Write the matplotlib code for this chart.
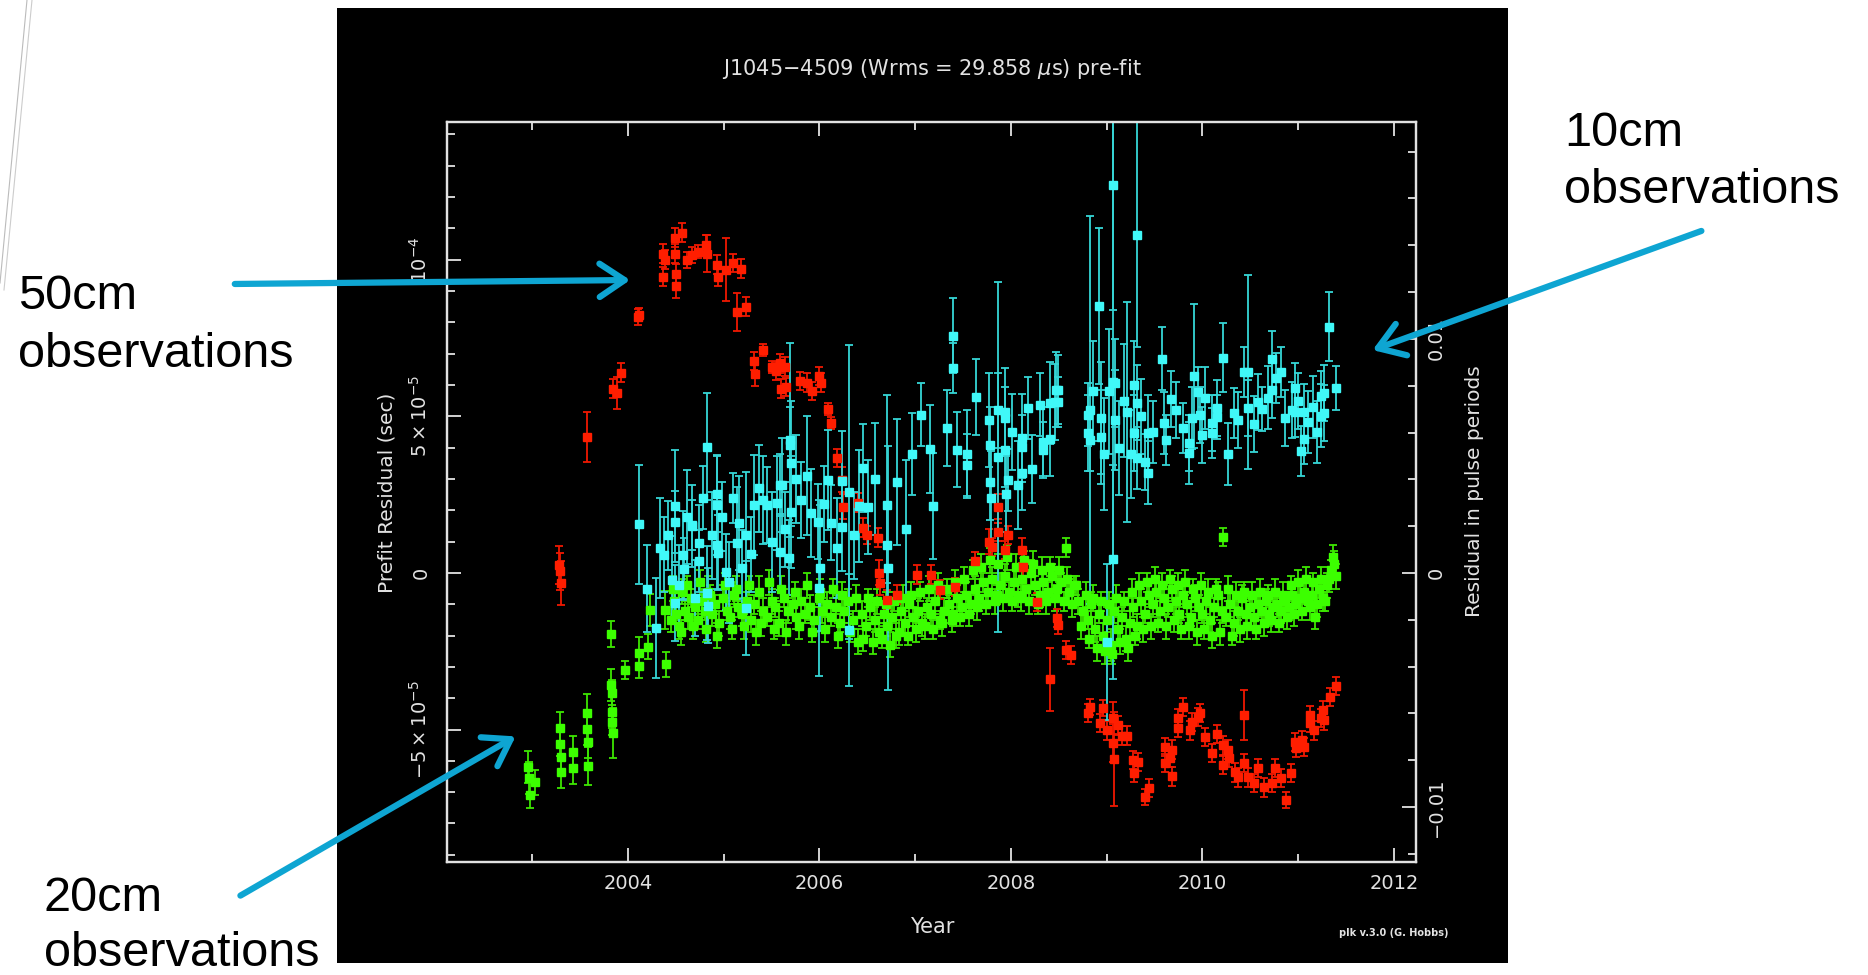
import matplotlib.pyplot as plt
import numpy as np
from matplotlib.patches import Rectangle, FancyArrowPatch
from matplotlib.lines import Line2D
from matplotlib.ticker import MultipleLocator

plt.rcParams['mathtext.fontset'] = 'dejavusans'

# residuals: year, prefit residual (microsec), error (microsec)
red_year = [2003.28, 2003.29, 2003.30, 2003.57, 2003.84, 2003.89, 2003.93, 2004.10, 2004.11,
            2004.37, 2004.37, 2004.39, 2004.49, 2004.49, 2004.50, 2004.50, 2004.56, 2004.62,
            2004.67, 2004.73, 2004.82, 2004.83, 2004.93, 2004.94, 2005.02, 2005.10, 2005.18,
            2005.14, 2005.23, 2005.32, 2005.33, 2005.41, 2005.50, 2005.55, 2005.59, 2005.60,
            2005.64, 2005.65, 2005.80, 2005.87, 2005.92, 2005.99, 2006.02, 2006.09, 2006.12,
            2006.18, 2006.24, 2006.25, 2006.40, 2006.46, 2006.50, 2006.61, 2006.62, 2006.63,
            2006.71, 2006.81, 2007.02, 2007.16, 2007.26, 2007.42, 2007.62, 2007.77, 2007.80,
            2007.86, 2007.86, 2007.94, 2007.97, 2008.12, 2008.13, 2008.27, 2008.41, 2008.48,
            2008.49, 2008.57, 2008.63, 2008.80, 2008.83, 2008.93, 2008.96, 2009.00, 2009.07,
            2009.07, 2009.08, 2009.12, 2009.16, 2009.21, 2009.28, 2009.29, 2009.33, 2009.40,
            2009.44, 2009.61, 2009.61, 2009.66, 2009.68, 2009.68, 2009.75, 2009.75, 2009.80,
            2009.87, 2009.89, 2009.95, 2009.97, 2010.03, 2010.10, 2010.15, 2010.21, 2010.22,
            2010.27, 2010.28, 2010.34, 2010.37, 2010.43, 2010.43, 2010.48, 2010.54, 2010.58,
            2010.64, 2010.73, 2010.76, 2010.82, 2010.87, 2010.93, 2010.97, 2010.98, 2011.04,
            2011.06, 2011.12, 2011.12, 2011.17, 2011.24, 2011.26, 2011.27, 2011.33, 2011.40]
red_res = [2.5, 0.5, -3.2, 43.5, 58.8, 57.5, 63.9, 81.8, 82.5,
           102.0, 94.6, 100.0, 107.0, 101.9, 91.7, 95.5, 108.6, 100.0,
           101.6, 102.6, 104.8, 102.0, 98.4, 94.6, 96.8, 99.0, 97.1,
           83.4, 85.0, 67.7, 63.6, 71.2, 65.8, 64.5, 67.0, 58.8,
           65.8, 59.4, 61.3, 60.7, 58.1, 62.9, 60.7, 52.4, 47.9,
           36.7, 29.7, 21.1, 22.4, 14.4, 12.1, 11.2, 0.0, -3.2,
           -8.6, -7.0, -0.6, -0.6, -5.4, -4.5, 3.8, 9.9, 8.3,
           13.1, 21.1, 7.3, 12.1, 7.3, 1.9, -9.3, -34.0, -14.4,
           -16.6, -24.6, -26.2, -44.7, -42.8, -47.9, -43.1, -50.2, -46.3,
           -54.3, -59.4, -48.6, -52.0, -52.0, -59.7, -63.9, -60.4, -71.6,
           -68.7, -55.6, -60.7, -59.1, -56.5, -64.9, -46.3, -49.5, -42.8,
           -50.2, -47.6, -46.0, -44.7, -52.4, -57.5, -51.4, -55.0, -61.3,
           -56.5, -59.1, -63.6, -65.2, -45.4, -60.7, -65.2, -67.1, -62.3,
           -68.4, -67.1, -62.3, -65.5, -72.5, -63.9, -54.0, -55.9, -53.4,
           -55.6, -45.4, -47.9, -50.2, -46.3, -43.8, -47.0, -39.6, -36.1]
red_err = [6, 6, 7, 8, 3, 5, 3, 2.5, 2,
           3, 3, 3, 3, 3, 4, 3, 3, 2.5,
           2.5, 2, 3, 6, 3, 3, 10, 3, 3,
           6, 3, 3, 4, 2, 2, 3, 3, 3,
           3, 3, 3, 3, 3, 3, 3, 2, 2,
           3, 4, 4, 3, 3, 3, 3, 4, 4,
           3, 3, 3, 3, 3, 3, 3, 4, 3,
           3, 4, 3, 3, 4, 3, 3, 10, 3,
           3, 3, 3, 3, 2.5, 3, 2.5, 3, 5,
           6, 15, 3, 3, 3, 3, 3, 3, 2.5,
           3, 3, 3, 3, 3, 3, 3, 3, 3,
           3, 3, 3, 3, 3, 3, 3, 3, 3,
           3, 3, 3, 3, 8, 3, 3, 3, 3,
           3, 3, 3, 3, 2.5, 3, 3, 3, 3,
           3, 3, 3, 3, 3, 3, 3, 3, 3]

green_year = [2002.96, 2002.97, 2002.98, 2003.03, 2003.29, 2003.29, 2003.30, 2003.30, 2003.43,
              2003.43, 2003.57, 2003.57, 2003.58, 2003.58, 2003.82, 2003.82, 2003.83, 2003.83,
              2003.83, 2003.84, 2003.97, 2004.11, 2004.12, 2004.21, 2004.23, 2004.39, 2004.40,
              2004.45, 2004.48, 2004.50, 2004.53, 2004.56, 2004.60, 2004.63, 2004.66, 2004.70,
              2004.73, 2004.77, 2004.80, 2004.84, 2004.88, 2004.91, 2004.95, 2004.99, 2005.03,
              2005.07, 2005.11, 2005.15, 2005.19, 2005.24, 2005.28, 2005.32, 2005.37, 2005.41,
              2005.45, 2005.50, 2005.54, 2005.58, 2005.63, 2005.67, 2005.72, 2005.76, 2005.81,
              2005.85, 2005.90, 2005.94, 2005.99, 2006.03, 2006.08, 2006.12, 2006.17, 2006.21,
              2006.26, 2006.30, 2006.35, 2006.40, 2006.44, 2006.49, 2006.53, 2006.58, 2006.62,
              2006.67, 2006.71, 2006.76, 2006.80, 2006.85, 2006.89, 2006.94, 2006.98, 2007.03,
              2007.07, 2007.12, 2007.17, 2007.21, 2007.26, 2007.30, 2007.35, 2007.40, 2007.44,
              2007.49, 2007.53, 2007.58, 2007.62, 2007.67, 2007.71, 2007.76, 2007.80, 2007.85,
              2007.89, 2007.94, 2007.98, 2008.03, 2008.07, 2008.12, 2008.16, 2008.21, 2008.25,
              2008.30, 2008.34, 2008.39, 2008.43, 2008.48, 2008.52, 2008.57, 2008.61, 2008.66,
              2008.70, 2008.75, 2008.80, 2008.84, 2008.88, 2008.92, 2008.96, 2009.00, 2009.04,
              2009.08, 2009.12, 2009.16, 2009.20, 2009.24, 2009.28, 2009.32, 2009.36, 2009.40,
              2009.44, 2009.48, 2009.52, 2009.56, 2009.60, 2009.64, 2009.68, 2009.72, 2009.76,
              2009.80, 2009.84, 2009.88, 2009.92, 2009.96, 2010.00, 2010.04, 2010.08, 2010.12,
              2010.16, 2010.20, 2010.22, 2010.25, 2010.29, 2010.33, 2010.37, 2010.41, 2010.45,
              2010.50, 2010.54, 2010.58, 2010.62, 2010.66, 2010.70, 2010.74, 2010.78, 2010.82,
              2010.86, 2010.90, 2010.94, 2010.98, 2011.02, 2011.06, 2011.10, 2011.14, 2011.18,
              2011.22, 2011.26, 2011.30, 2011.34, 2011.37, 2011.40,
              2004.47, 2004.55, 2004.62, 2004.68, 2004.75, 2004.82, 2004.86, 2004.93, 2005.01,
              2005.09, 2005.13, 2005.21, 2005.26, 2005.34, 2005.39, 2005.47, 2005.52, 2005.60,
              2005.65, 2005.74, 2005.79, 2005.87, 2005.92, 2006.01, 2006.06, 2006.14, 2006.19,
              2006.24, 2006.32, 2006.38, 2006.46, 2006.51, 2006.56, 2006.60, 2006.65, 2006.69,
              2006.74, 2006.78, 2006.83, 2006.87, 2006.92, 2006.96, 2007.01, 2007.05, 2007.10,
              2007.14, 2007.19, 2007.24, 2007.28, 2007.33, 2007.38, 2007.42, 2007.47, 2007.51,
              2007.56, 2007.60, 2007.65, 2007.69, 2007.74, 2007.78, 2007.83, 2007.87, 2007.92,
              2007.96, 2008.01, 2008.05, 2008.10, 2008.14, 2008.19, 2008.23, 2008.28, 2008.32,
              2008.37, 2008.41, 2008.46, 2008.50, 2008.55, 2008.59, 2008.64, 2008.68, 2008.73,
              2008.78, 2008.82, 2008.86, 2008.90, 2008.94, 2008.98, 2009.02, 2009.06, 2009.10,
              2009.14, 2009.18, 2009.22, 2009.26, 2009.30, 2009.34, 2009.38, 2009.42, 2009.46,
              2009.50, 2009.54, 2009.58, 2009.62, 2009.66, 2009.70, 2009.74, 2009.78, 2009.82,
              2009.86, 2009.90, 2009.94, 2009.98, 2010.02, 2010.06, 2010.10, 2010.14, 2010.18,
              2010.27, 2010.31, 2010.35, 2010.39, 2010.43, 2010.47, 2010.52, 2010.56, 2010.60,
              2010.64, 2010.68, 2010.72, 2010.76, 2010.80, 2010.84, 2010.88, 2010.92, 2010.96,
              2011.00, 2011.04, 2011.08, 2011.12, 2011.16, 2011.20, 2011.24, 2011.28, 2011.32,
              2011.36]
green_res = [-62.0, -65.5, -70.9, -66.8, -49.5, -54.6, -58.8, -63.6, -57.2,
             -62.3, -44.7, -49.8, -54.0, -61.7, -19.5, -35.8, -38.3, -44.4,
             -47.6, -51.1, -31.0, -25.6, -29.7, -23.6, -11.8, -11.8, -29.1,
             -15, -9, -13, -17, -6, -12, -14, -8, -11,
             -15, -9, -12, -6, -13, -10, -16, -8, -12,
             -14, -7, -11, -13, -9, -15, -10, -6, -12,
             -14, -9, -11, -16, -8, -12, -10, -14, -9,
             -13, -11, -15, -8, -12, -10, -14, -11, -16,
             -12, -9, -15, -22, -13, -17, -11, -15, -19,
             -13, -17, -14, -20, -12, -16, -10, -14, -12,
             -16, -11, -13, -9, -15, -12, -10, -13, -8,
             -11, -7, -10, -5, -8, -3, -6, -2, -7,
             -4, -1, -6, -3, -7, -2, -5, 0, -4,
             -7, -3, -6, -1, -5, -3, 8, -6, -4,
             -9, -12, -15, -10, -18, -13, -20, -15, -23,
             -12, -18, -14, -21, -16, -11, -17, -9, -13,
             -7, -10, -6, -12, -8, -11, -5, -9, -13,
             -7, -10, -14, -8, -11, -13, -9, -15, -11,
             -7, -12, 11.5, -14, -10, -16, -12, -8, -13,
             -11, -14, -10, -12, -9, -13, -11, -10, -12,
             -9, -11, -7, -10, -8, -6, -9, -7, -14,
             -5, -8, -4, 1, 3, -1,
             -5, -19, -4, -17, -3, -18, -7, -20, -4,
             -18, -5, -17, -4, -19, -16, -3, -18, -5,
             -19, -6, -17, -4, -19, -6, -18, -5, -20,
             -7, -19, -8, -21, -8, -22, -9, -21, -10,
             -23, -9, -19, -8, -20, -7, -18, -6, -17,
             -5, -18, -4, -16, -5, -15, -3, -14, -2,
             -13, 1, -11, 2, -10, 4, -9, 3, -8,
             5, -9, 2, -8, 4, -9, 3, -10, 1,
             -9, 2, -8, 1, -9, -2, -10, -4, -17,
             -7, -21, -8, -24, -9, -25, -10, -26, -8,
             -22, -9, -24, -6, -20, -4, -18, -3, -17,
             -2, -16, -4, -17, -2, -15, -4, -18, -3,
             -17, -5, -19, -4, -18, -6, -20, -5, -19,
             -5, -20, -7, -18, -6, -17, -7, -18, -6,
             -16, -7, -15, -6, -16, -7, -14, -4, -13,
             -3, -12, -2, -11, -3, -10, -2, -9, -2,
             5]
green_err = [5, 5, 4, 4, 5, 4, 5, 5, 5,
             5, 6, 5, 5, 6, 4, 5, 4, 5,
             4, 8, 3, 5, 4, 4, 5, 6, 4,
             4, 4, 3, 4, 4, 3, 4, 3, 4,
             3, 4, 3, 5, 4, 3, 4, 4, 3,
             4, 4, 3, 4, 3, 4, 3, 5, 4,
             3, 4, 3, 4, 3, 4, 3, 4, 4,
             3, 4, 4, 3, 4, 4, 3, 4, 3,
             4, 4, 3, 4, 4, 3, 4, 4, 3,
             4, 3, 4, 4, 3, 4, 4, 3, 4,
             4, 3, 4, 4, 3, 4, 3, 4, 4,
             3, 4, 3, 4, 4, 3, 4, 4, 3,
             4, 4, 3, 4, 4, 3, 4, 4, 3,
             4, 4, 3, 4, 4, 3, 3, 4, 3,
             4, 4, 3, 4, 4, 3, 4, 4, 5,
             4, 4, 3, 4, 4, 3, 4, 4, 3,
             4, 4, 3, 4, 4, 3, 4, 4, 3,
             4, 4, 3, 4, 4, 3, 4, 4, 3,
             4, 4, 3, 3, 4, 4, 3, 4, 4,
             3, 4, 4, 3, 4, 4, 3, 4, 4,
             3, 4, 4, 3, 4, 4, 3, 4, 4,
             3, 4, 4, 3, 4, 4,
             4, 4, 3, 4, 4, 4, 3, 4, 4,
             3, 4, 4, 3, 4, 4, 4, 3, 4,
             4, 3, 4, 4, 3, 4, 4, 3, 4,
             4, 3, 4, 4, 3, 4, 4, 3, 4,
             4, 3, 4, 4, 3, 4, 4, 3, 4,
             4, 3, 4, 4, 3, 4, 4, 3, 4,
             4, 3, 4, 4, 3, 4, 4, 3, 4,
             4, 3, 4, 4, 3, 4, 4, 3, 4,
             4, 3, 4, 4, 3, 4, 4, 3, 4,
             4, 3, 4, 4, 3, 4, 4, 3, 4,
             4, 3, 4, 4, 3, 4, 4, 3, 4,
             4, 3, 4, 4, 3, 4, 4, 3, 4,
             4, 3, 4, 4, 3, 4, 4, 3, 4,
             4, 3, 4, 4, 3, 4, 4, 3, 4,
             4, 3, 4, 4, 3, 4, 4, 3, 4,
             4, 3, 4, 4, 3, 4, 4, 3, 4,
             4]

cyan_year = [2004.11, 2004.29, 2004.38, 2004.46, 2004.49, 2004.49, 2004.49, 2004.57, 2004.59,
             2004.67, 2004.67, 2004.74, 2004.74, 2004.83, 2004.83, 2004.84, 2004.93, 2004.93,
             2004.93, 2004.94, 2005.02, 2005.10, 2005.14, 2005.19, 2005.23, 2005.23, 2005.32,
             2005.41, 2005.45, 2005.56, 2005.59, 2005.59, 2005.61, 2005.68, 2005.69, 2005.69,
             2005.70, 2005.70, 2005.81, 2005.87, 2005.91, 2005.98, 2005.99, 2006.01, 2006.09,
             2006.12, 2006.24, 2006.24, 2006.31, 2006.31, 2006.41, 2006.46, 2006.51, 2006.71,
             2006.71, 2006.72, 2006.81, 2006.97, 2007.06, 2007.15, 2007.19, 2007.33, 2007.39,
             2007.39, 2007.44, 2007.54, 2007.54, 2007.63, 2007.77, 2007.78, 2007.78, 2007.79,
             2007.86, 2007.86, 2007.94, 2007.94, 2007.94, 2007.95, 2007.97, 2008.01, 2008.07,
             2008.12, 2008.12, 2008.12, 2008.18, 2008.22, 2008.30, 2008.34, 2008.34, 2008.41,
             2008.41, 2008.46, 2008.47, 2008.49, 2008.49, 2008.80, 2008.80, 2008.83, 2008.83,
             2008.92, 2008.94, 2008.94, 2009.00, 2009.07, 2009.07, 2009.07, 2009.09, 2009.09,
             2009.21, 2009.29, 2009.32, 2009.32, 2009.32, 2009.29, 2009.40, 2009.43, 2009.43,
             2009.58, 2009.60, 2009.62, 2009.67, 2009.80, 2009.86, 2009.86, 2009.89, 2009.91,
             2009.95, 2009.97, 2010.03, 2010.10, 2010.10, 2010.15, 2010.15, 2010.21, 2010.27,
             2010.33, 2010.37, 2010.43, 2010.48, 2010.48, 2010.54, 2010.58, 2010.62, 2010.73,
             2010.73, 2010.77, 2010.82, 2010.86, 2010.94, 2010.97, 2010.97, 2011.03, 2011.06,
             2011.06, 2011.10, 2011.15, 2011.24, 2011.24, 2011.27, 2011.27, 2011.32, 2011.40,
             2004.20, 2004.33, 2004.42, 2004.53, 2004.62, 2004.70, 2004.78, 2004.88, 2004.98,
             2005.06, 2005.16, 2005.28, 2005.37, 2005.50, 2005.64, 2005.76, 2006.05, 2006.18,
             2006.36, 2006.58, 2006.90, 2008.86, 2008.97, 2009.02, 2009.13, 2009.18, 2009.25,
             2009.36, 2009.48, 2009.72, 2010.00, 2010.68, 2011.00, 2011.20]
cyan_res = [15.6, -17.6, 5.8, -2.2, 21.4, 16.3, -9.6, 5.8, 1.3,
            15.0, 15.3, 9.6, 3.8, 40.3, -6.4, -10.5, 25.2, 21.7,
            8.9, 6.4, 0.3, 24.0, 9.6, 1.6, 12.1, -11.2, 21.7,
            23.3, 21.7, 22.4, 28.1, 6.7, 28.0, 4.8, 42.5, 41.0,
            35.0, 19.5, 23.3, 31.0, 19.2, 16.3, -4.8, 1.6, 29.7,
            16.0, 29.4, 14.7, 25.9, -18.2, 21.4, 33.5, 21.1, 21.7,
            8.9, 1.6, 29.0, 38.0, 50.5, 39.6, 21.4, 46.3, 75.7,
            65.5, 39.3, 38.0, 34.5, 56.2, 48.9, 41.0, 29.0, 24.0,
            52.0, 37.0, 51.4, 49.5, 39.3, 25.2, 29.7, 45.0, 28.1,
            43.0, 40.3, 32.0, 52.7, 33.2, 53.7, 41.9, 39.3, 54.3,
            42.8, 54.6, 58.5, 58.5, 54.6, 50.5, 44.7, 52.0, 42.5,
            85.3, 49.5, 43.5, -22.0, 124.0, 61.0, 4.5, 60.7, 48.9,
            51.4, 60.0, 108.0, 54.3, 36.7, 44.7, 35.5, 44.7, 32.0,
            68.4, 47.9, 42.5, 55.6, 46.3, 41.5, 38.3, 49.5, 62.9,
            57.8, 50.5, 55.9, 47.9, 44.7, 52.7, 49.8, 68.7, 38.0,
            51.1, 48.9, 64.2, 64.2, 52.7, 47.6, 54.6, 52.4, 68.4,
            58.5, 62.3, 64.2, 49.5, 52.0, 59.1, 51.4, 39.0, 51.4,
            42.8, 48.2, 53.0, 56.5, 50.2, 57.5, 51.1, 78.6, 59.1,
            -5, 8, 12, -4, 18, -8, 24, 12, 18,
            -3, 16, 6, 27, 10, 14, 30, 22, 8,
            12, 30, 14, 58, 38, 58, 40, 55, 38,
            50, 45, 52, 44, 56, 55, 45]
cyan_err = [19, 16, 12, 14, 18, 10, 12, 14, 10,
            13, 8, 12, 10, 17, 15, 12, 12, 16,
            14, 12, 12, 8, 18, 12, 20, 15, 16,
            14, 12, 15, 10, 12, 15, 12, 31, 12,
            20, 18, 12, 19, 14, 12, 28, 20, 16,
            12, 16, 14, 47, 18, 18, 14, 15, 35,
            12, 39, 20, 13, 10, 14, 17, 12, 12,
            8, 12, 14, 10, 12, 15, 12, 12, 15,
            12, 56, 14, 10, 12, 12, 10, 12, 14,
            14, 10, 12, 10, 11, 10, 11, 9, 13,
            12, 12, 12, 11, 8, 10, 12, 62, 10,
            25, 18, 15, 25, 40, 95, 30, 14, 16,
            35, 14, 36, 12, 10, 12, 9, 12, 10,
            10, 10, 8, 9, 8, 9, 10, 10, 23,
            8, 9, 10, 9, 8, 9, 7, 11, 10,
            8, 9, 8, 31, 9, 9, 9, 7, 9,
            9, 8, 8, 9, 9, 8, 8, 8, 9,
            8, 10, 10, 8, 10, 9, 9, 11, 7,
            14, 16, 11, 13, 15, 12, 10, 14, 11,
            13, 15, 12, 14, 16, 12, 14, 12, 16,
            14, 18, 22, 16, 18, 20, 15, 18, 14,
            12, 10, 9, 9, 10, 9, 10]

year_ticks = [2004, 2006, 2008, 2010, 2012]
left_ticks = [-50, 0, 50, 100]
left_labels = [r'$-5\times10^{-5}$', '0', r'$5\times10^{-5}$', r'$10^{-4}$']
right_ticks = [-0.01, 0, 0.01]
right_labels = ['\u22120.01', '0', '0.01']
period = 0.007474  # s, J1045-4509

fg = '#E2E2E2'
blue = '#0EA5D2'

fig = plt.figure(figsize=(18.68, 9.75), dpi=100)
fig.patch.set_facecolor('white')
fig.patches.append(Rectangle((0.1804, 0.0123), 0.6269, 0.9795, transform=fig.transFigure,
                             facecolor='black', edgecolor='none', zorder=-5))

ax = fig.add_axes([0.2393, 0.1159, 0.5187, 0.7590])
ax.set_facecolor('black')

def plot_set(x, y, e, col, ecol):
    ax.errorbar(x, y, yerr=e, fmt='s', ms=5.5, mfc=col, mec=col, ecolor=ecol,
                elinewidth=1.3, capsize=2.6, capthick=1.3)

plot_set(green_year, green_res, green_err, '#3CFF00', '#3CE600')
plot_set(red_year, red_res, red_err, '#FF1E00', '#F01800')
plot_set(cyan_year, cyan_res, cyan_err, '#40F8F8', '#36D6D6')

ax.set_xlim(2002.11, 2012.23)
ax.set_ylim(-92.3, 144)

ax.set_xticks(year_ticks)
ax.set_xticklabels([str(y) for y in year_ticks])
ax.xaxis.set_minor_locator(MultipleLocator(1))
ax.set_yticks(left_ticks)
ax.set_yticklabels(left_labels, rotation=90, va='center')
ax.yaxis.set_minor_locator(MultipleLocator(10))
ax.tick_params(which='both', direction='in', colors=fg, labelsize=14,
               top=True, bottom=True, left=True, right=False)
ax.tick_params(which='major', length=10, width=1.3)
ax.tick_params(which='minor', length=6, width=1.3)
ax.tick_params(axis='x', pad=9)
ax.tick_params(axis='y', pad=12)
for s in ax.spines.values():
    s.set_color(fg)
    s.set_linewidth(1.6)

ax2 = ax.twinx()
ax2.set_ylim(np.array(ax.get_ylim()) * 1e-6 / period)
ax2.set_yticks(right_ticks)
ax2.set_yticklabels(right_labels, rotation=90, va='center')
ax2.yaxis.set_minor_locator(MultipleLocator(0.002))
ax2.tick_params(which='both', direction='in', colors=fg, labelsize=14, pad=8)
ax2.tick_params(which='major', length=10, width=1.3)
ax2.tick_params(which='minor', length=6, width=1.3)
for s in ax2.spines.values():
    s.set_color(fg)
    s.set_linewidth(1.6)

fig.text(0.499, 0.929, r'J1045$-$4509 (Wrms = 29.858 $\mu$s) pre-fit', color=fg,
         fontsize=15, ha='center', va='center')
fig.text(0.499, 0.049, 'Year', color=fg, fontsize=15, ha='center', va='center')
fig.text(387 / 1868, 0.495, 'Prefit Residual (sec)', color=fg, fontsize=14.5,
         rotation=90, ha='center', va='center')
fig.text(1475 / 1868, 0.496, 'Residual in pulse periods', color=fg, fontsize=14.5,
         rotation=90, ha='center', va='center')
fig.text(0.746, 0.043, 'plk v.3.0 (G. Hobbs)', color=fg, fontsize=7, fontweight='bold',
         ha='center', va='center')

# slide annotations
def note(x, y1, y2, first):
    fig.text(x / 1868, 1 - y1 / 975, first, fontsize=35, family='Liberation Sans',
             ha='left', va='baseline', color='black')
    fig.text(x / 1868, 1 - y2 / 975, 'observations', fontsize=35, family='Liberation Sans',
             ha='left', va='baseline', color='black')

note(18, 309, 367, '50cm')
note(1564, 146, 203, '10cm')
note(44, 911, 966, '20cm')

def arrow(x0, y0, x1, y1):
    a = FancyArrowPatch((x0 / 1868, 1 - y0 / 975), (x1 / 1868, 1 - y1 / 975),
                        transform=fig.transFigure, arrowstyle='->,head_length=0.9,head_width=0.6',
                        mutation_scale=20, lw=4.5, color=blue, zorder=5)
    fig.patches.append(a)

arrow(232, 284, 633, 280)
arrow(1704, 230, 1370, 351)
arrow(238, 897, 518, 735)

fig.add_artist(Line2D([0, 27 / 1868], [1 - 283 / 975, 1], transform=fig.transFigure,
                      color='#BBBBBB', lw=0.8))
fig.add_artist(Line2D([4 / 1868, 32 / 1868], [1 - 290 / 975, 1], transform=fig.transFigure,
                      color='#CCCCCC', lw=0.8))

fig.savefig('out.png', dpi=100)
